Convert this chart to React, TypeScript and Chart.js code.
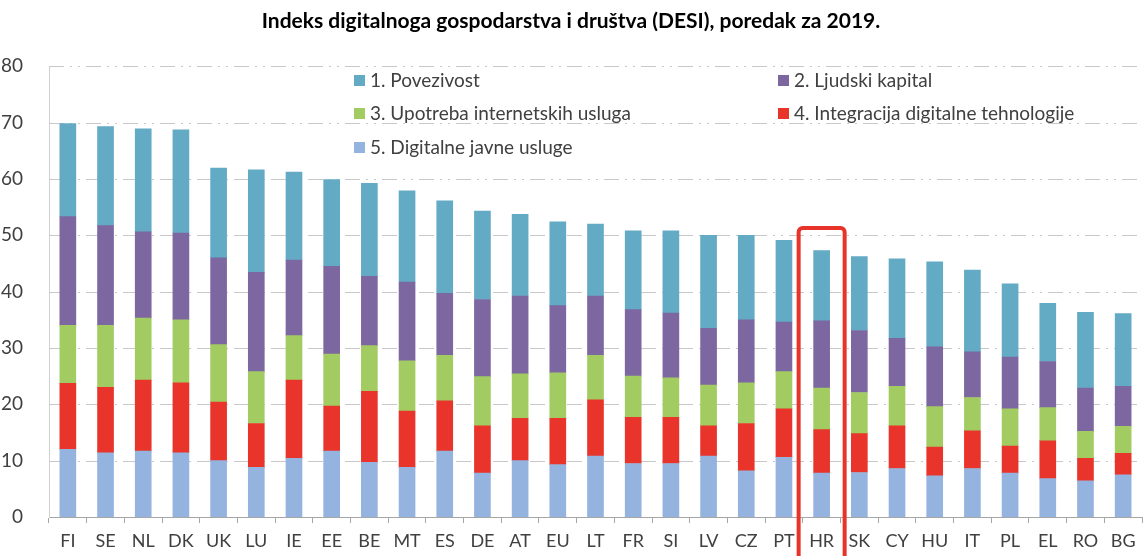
import React, { useEffect, useRef } from "react";
import { Chart, registerables } from "chart.js";

Chart.register(...registerables);

const categories = ["FI","SE","NL","DK","UK","LU","IE","EE","BE","MT","ES","DE","AT","EU","LT","FR","SI","LV","CZ","PT","HR","SK","CY","HU","IT","PL","EL","RO","BG"];

const povezivost = [16.5,17.6,18.3,18.3,15.9,18.2,15.6,15.4,16.5,16.2,16.4,15.7,14.5,14.9,12.8,14.0,14.6,16.5,15.0,14.5,12.5,13.1,14.1,15.1,14.5,13.0,10.3,13.4,12.9];
const ljudskiKapital = [19.3,17.7,15.3,15.4,15.4,17.6,13.4,15.6,12.3,14.0,11.0,13.7,13.8,11.9,10.5,11.8,11.5,10.1,11.2,8.8,11.9,11.0,8.5,10.6,8.1,9.2,8.2,7.7,7.1];
const upotreba = [10.3,11.0,11.0,11.2,10.2,9.2,7.9,9.2,8.1,8.9,8.1,8.7,7.9,8.1,7.9,7.3,7.0,7.2,7.2,6.6,7.4,7.3,7.0,7.2,5.9,6.6,5.9,4.8,4.8];
const integracija = [11.7,11.6,12.6,12.4,10.4,7.8,13.9,8.0,12.6,10.0,8.9,8.4,7.5,8.2,10.0,8.2,8.2,5.4,8.4,8.6,7.7,6.9,7.6,5.1,6.7,4.8,6.7,4.0,3.8];
const javneUsluge = [12.0,11.4,11.7,11.4,10.0,8.8,10.4,11.7,9.7,8.8,11.7,7.8,10.0,9.3,10.8,9.5,9.5,10.8,8.2,10.6,7.8,7.9,8.6,7.3,8.6,7.8,6.8,6.4,7.5];

const yTicks = [0,10,20,30,40,50,60,70,80];

const seriesLabels = [
  "1. Povezivost",
  "2. Ljudski kapital",
  "3. Upotreba internetskih usluga",
  "4. Integracija digitalne tehnologije",
  "5. Digitalne javne usluge",
];
const seriesColors = ["#63AAC4", "#7D67A0", "#A2CC62", "#E8342A", "#95B3DF"];

const highlightCategory = "HR";
const highlightTop = 51.3;

const FONT = "Lato, 'Open Sans', sans-serif";
const TEXT = "#404040";

const gridPlugin = {
  id: "dashGrid",
  beforeDatasetsDraw(chart: any) {
    const ctx = chart.ctx;
    const ys = chart.scales.y;
    const area = chart.chartArea;
    ctx.save();
    ctx.strokeStyle = "#C8C8C8";
    ctx.lineWidth = 1;
    ctx.setLineDash([15, 6, 2, 6, 2, 6]);
    yTicks.forEach((v) => {
      if (v === 0) return;
      const y = Math.round(ys.getPixelForValue(v)) + 0.5;
      ctx.beginPath();
      ctx.moveTo(area.left, y);
      ctx.lineTo(area.right, y);
      ctx.stroke();
    });
    ctx.restore();
  },
};

const legendPlugin = {
  id: "gridLegend",
  afterDraw(chart: any) {
    const ctx = chart.ctx;
    const cols = [354, 778];
    const rows = [80, 113, 147];
    ctx.save();
    ctx.font = `19px ${FONT}`;
    ctx.textBaseline = "middle";
    seriesLabels.forEach((lab, i) => {
      const x = cols[i % 2];
      const y = rows[Math.floor(i / 2)];
      ctx.fillStyle = seriesColors[i];
      ctx.fillRect(x, y - 5, 11, 11);
      ctx.fillStyle = TEXT;
      ctx.fillText(lab, x + 16, y + 1);
    });
    ctx.restore();
  },
};

const highlightPlugin = {
  id: "highlightBox",
  afterDraw(chart: any) {
    const ctx = chart.ctx;
    const xs = chart.scales.x;
    const ys = chart.scales.y;
    const idx = categories.indexOf(highlightCategory);
    const cx = xs.getPixelForValue(idx);
    const half = 23;
    const top = ys.getPixelForValue(highlightTop);
    const bottom = chart.height + 10;
    ctx.save();
    ctx.strokeStyle = "#E8332A";
    ctx.lineWidth = 4;
    ctx.beginPath();
    const r = 4;
    ctx.moveTo(cx - half, bottom);
    ctx.lineTo(cx - half, top + r);
    ctx.arcTo(cx - half, top, cx - half + r, top, r);
    ctx.lineTo(cx + half - r, top);
    ctx.arcTo(cx + half, top, cx + half, top + r, r);
    ctx.lineTo(cx + half, bottom);
    ctx.stroke();
    ctx.restore();
  },
};

export default function App() {
  const ref = useRef<HTMLCanvasElement | null>(null);
  useEffect(() => {
    if (!ref.current) return;
    const stackBottomFirst = [
      { data: javneUsluge, i: 4 },
      { data: integracija, i: 3 },
      { data: upotreba, i: 2 },
      { data: ljudskiKapital, i: 1 },
      { data: povezivost, i: 0 },
    ];
    const chart = new Chart(ref.current, {
      type: "bar",
      data: {
        labels: categories,
        datasets: stackBottomFirst.map((s) => ({
          label: seriesLabels[s.i],
          data: s.data,
          backgroundColor: seriesColors[s.i],
          borderWidth: 0,
          barThickness: 16,
          categoryPercentage: 1,
          barPercentage: 0.42,
        })),
      },
      options: {
        animation: false,
        responsive: false,
        maintainAspectRatio: false,
        layout: { padding: { left: 0, right: 1, top: 0, bottom: 0 } },
        plugins: {
          legend: { display: false },
          tooltip: { enabled: false },
          title: {
            display: true,
            text: "Indeks digitalnoga gospodarstva i društva (DESI), poredak za 2019.",
            color: "#000000",
            font: { family: FONT, size: 21, weight: "bold" },
            padding: { top: 9, bottom: 32 },
          },
        },
        scales: {
          x: {
            stacked: true,
            grid: {
              display: true,
              drawOnChartArea: false,
              drawTicks: true,
              tickLength: 6,
              color: "#A6A6A6",
              offset: true,
            },
            border: { display: true, color: "#A6A6A6", width: 1 },
            ticks: {
              color: TEXT,
              font: { family: FONT, size: 18 },
              padding: 7,
              autoSkip: false,
              maxRotation: 0,
            },
            afterFit(scale: any) {
              scale.height = 39;
            },
          },
          y: {
            stacked: true,
            min: 0,
            max: 80,
            afterBuildTicks(scale: any) {
              scale.ticks = yTicks.map((v) => ({ value: v }));
            },
            grid: { display: false },
            border: { display: true, color: "#D0D0D0", width: 1 },
            ticks: {
              color: TEXT,
              font: { family: FONT, size: 19 },
              padding: 18,
            },
            afterFit(scale: any) {
              scale.width = 49;
            },
          },
        },
      },
      plugins: [gridPlugin, legendPlugin, highlightPlugin],
    } as any);
    return () => chart.destroy();
  }, []);
  return (
    <div style={{ position: "fixed", left: 0, top: 0, width: 1143, height: 556, background: "#fff" }}>
      <canvas ref={ref} width={1143} height={556} style={{ width: 1143, height: 556 }} />
    </div>
  );
}
